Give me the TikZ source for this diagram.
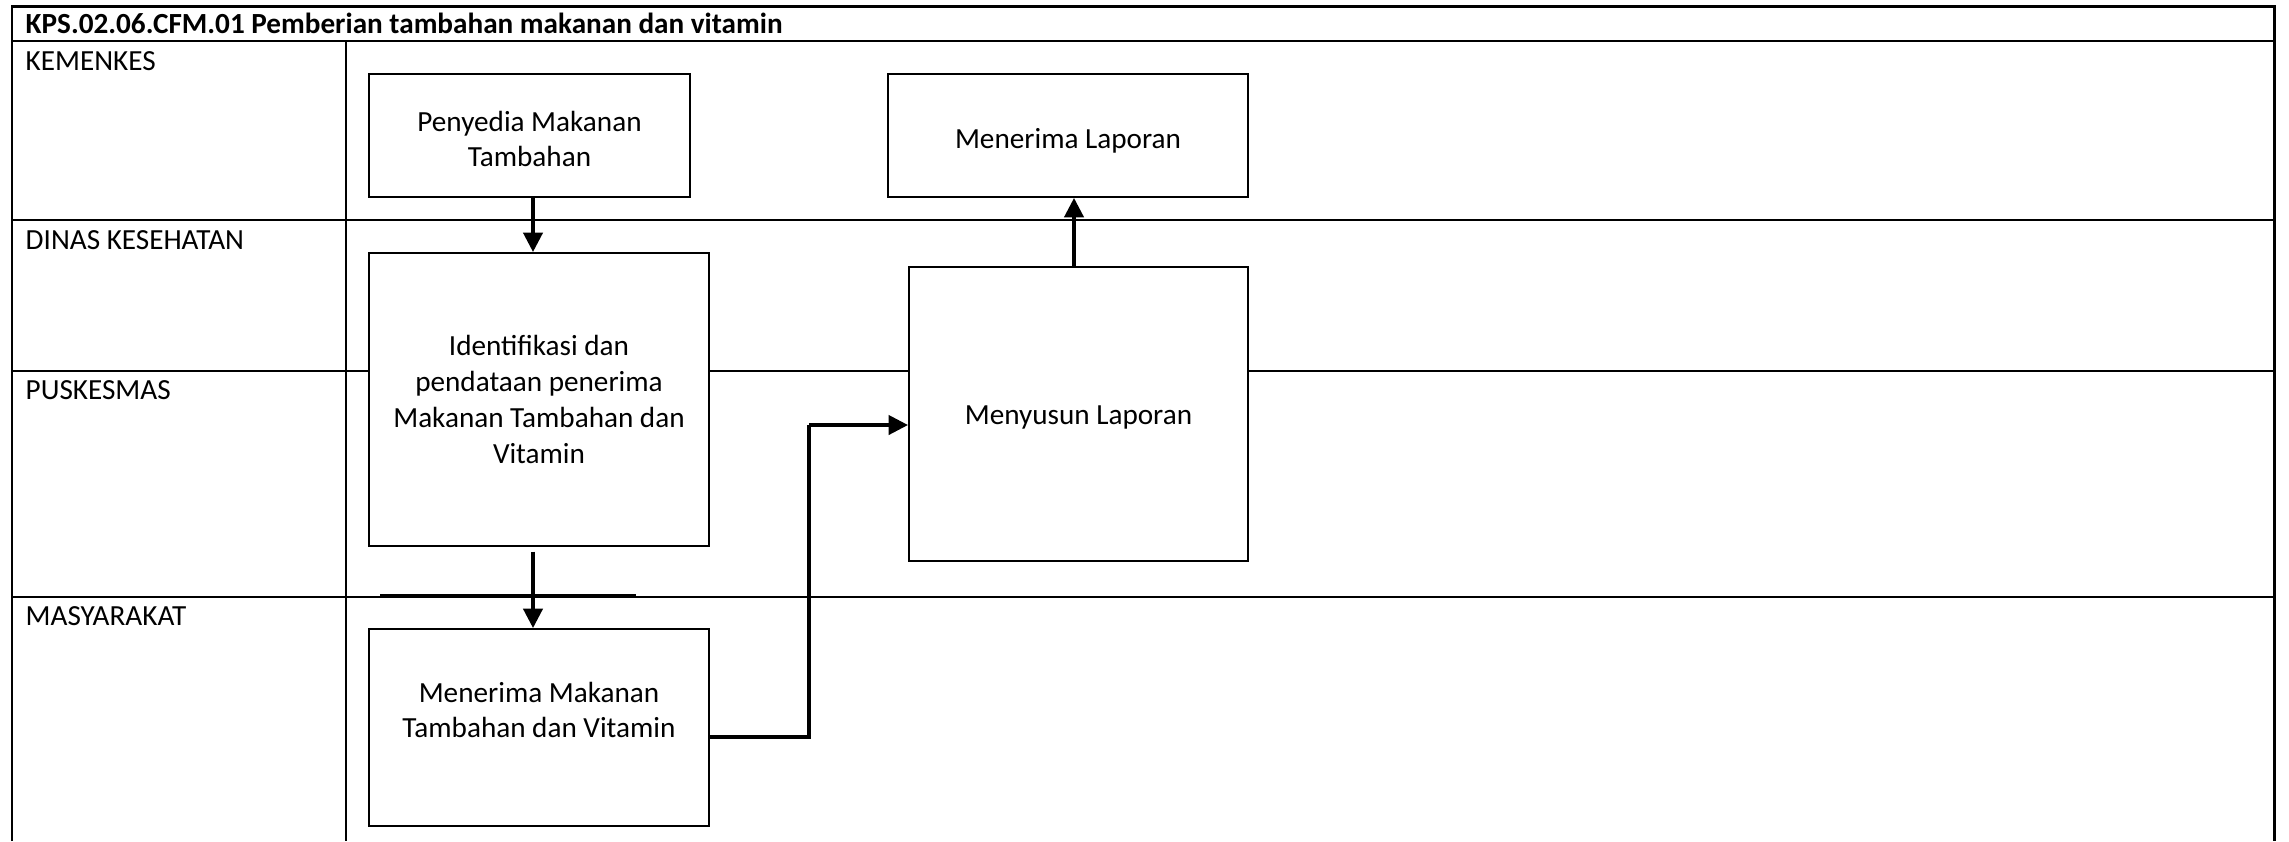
\documentclass[tikz,border=0pt]{standalone}
\usepackage{fontspec}
\setmainfont{Carlito}
\usetikzlibrary{arrows.meta}
\begin{document}
\begin{tikzpicture}[x=0.01cm,y=-0.01cm,
  frame/.style={line width=0.85pt},
  lane/.style={line width=0.75pt},
  box/.style={draw, line width=0.55pt, fill=white, inner sep=0pt, align=center,
    font=\fontsize{8.3}{10.2}\selectfont},
  txt/.style={inner sep=0pt, align=center, font=\fontsize{8.3}{10.2}\selectfont},
  lbl/.style={inner sep=0pt, anchor=west, font=\fontsize{8.3}{10.2}\selectfont},
  flow/.style={line width=0.9pt, -{Triangle[width=5.5pt,length=5.5pt]}},
  link/.style={line width=0.9pt}]
\useasboundingbox (0,0) rectangle (2289,841);
% frame and lanes
\draw[frame] (12,841) -- (12,6) -- (2274,6) -- (2274,841);
\draw[lane] (12,41) -- (2274,41);
\draw[lane] (12,220) -- (2274,220);
\draw[lane] (12,371) -- (2274,371);
\draw[lane] (12,597) -- (2274,597);
\draw[line width=1.1pt] (380,595.5) -- (636,595.5);
\draw[lane] (346,41) -- (346,841);
% labels
\node[lbl, font=\fontsize{8.3}{10.2}\selectfont\bfseries] (title) at (25,23) {KPS.02.06.CFM.01 Pemberian tambahan makanan dan vitamin};
\node[lbl] (l1) at (25,61) {KEMENKES};
\node[lbl] (l2) at (25,240) {DINAS KESEHATAN};
\node[lbl] (l3) at (25,390) {PUSKESMAS};
\node[lbl] (l4) at (25,616) {MASYARAKAT};
% boxes
\node[box, minimum width=3.21cm, minimum height=1.23cm] (pen) at (529.5,135.5) {};
\node[txt] (pent) at (529.5,139) {Penyedia Makanan\\Tambahan};
\node[box, minimum width=3.60cm, minimum height=1.23cm] (lap) at (1068,135.5) {};
\node[txt] (lapt) at (1068,141) {Menerima Laporan};
\node[box, minimum width=3.40cm, minimum height=2.93cm] (iden) at (539,399.5) {Identifikasi dan\\pendataan penerima\\Makanan Tambahan dan\\Vitamin};
\node[box, minimum width=3.39cm, minimum height=2.94cm] (sus) at (1078.5,414) {};
\node[txt] (sust) at (1078.5,417) {Menyusun Laporan};
\node[box, minimum width=3.40cm, minimum height=1.97cm] (mak) at (539,727.5) {};
\node[txt] (makt) at (539,710) {Menerima Makanan\\Tambahan dan Vitamin};
% connectors
\coordinate (c1) at (533,0);
\coordinate (c2) at (809,0);
\coordinate (c3) at (1074,0);
\draw[flow] (pen.south -| c1) -- (iden.north -| c1);
\draw[flow] ([yshift=-1.3pt]iden.south -| c1) -- (mak.north -| c1);
\draw[link] (mak.east |- 0,737) -- (c2 |- 0,737) -- (c2 |- 0,425);
\draw[flow] (c2 |- 0,425) -- (sus.west |- 0,425);
\draw[flow] (sus.north -| c3) -- (lap.south -| c3);
\end{tikzpicture}
\end{document}
